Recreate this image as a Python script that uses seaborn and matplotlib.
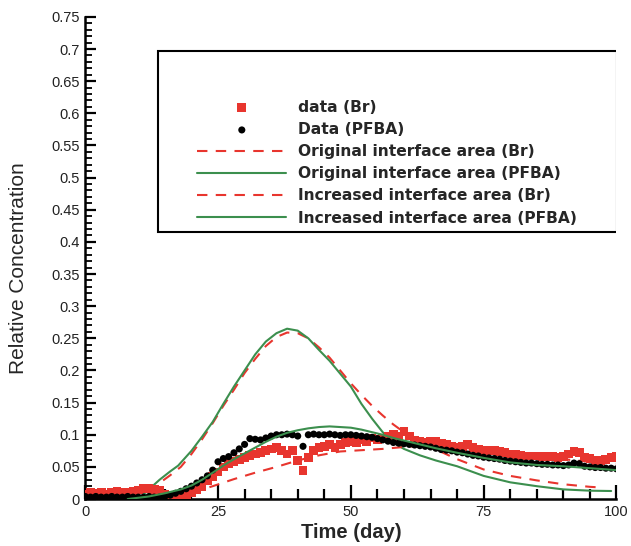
import numpy as np
import pandas as pd
import matplotlib
matplotlib.use("Agg")
import matplotlib.pyplot as plt
from matplotlib.patches import Rectangle
from matplotlib.ticker import MultipleLocator, FixedLocator, FuncFormatter
import seaborn as sns

# ---------------- data ----------------
data_t = list(range(0, 101))
data_br = [0.008, 0.010, 0.009, 0.010, 0.008, 0.010, 0.012, 0.010, 0.011, 0.012,
           0.014, 0.016, 0.017, 0.015, 0.013, 0.008, 0.004, 0.003, 0.004, 0.006,
           0.010, 0.014, 0.020, 0.028, 0.035, 0.042, 0.050, 0.055, 0.058, 0.062,
           0.065, 0.068, 0.070, 0.072, 0.075, 0.078, 0.080, 0.076, 0.070, 0.075,
           0.060, 0.045, 0.065, 0.075, 0.080, 0.082, 0.085, 0.080, 0.085, 0.088,
           0.090, 0.088, 0.092, 0.090, 0.095, 0.093, 0.095, 0.098, 0.100, 0.097,
           0.105, 0.098, 0.092, 0.090, 0.088, 0.090, 0.090, 0.086, 0.085, 0.082,
           0.080, 0.082, 0.085, 0.080, 0.078, 0.076, 0.075, 0.075, 0.074, 0.072,
           0.070, 0.069, 0.068, 0.067, 0.067, 0.067, 0.066, 0.066, 0.066, 0.065,
           0.066, 0.070, 0.074, 0.072, 0.065, 0.063, 0.060, 0.060, 0.062, 0.065,
           0.066]
data_pfba = [0.004, 0.003, 0.004, 0.003, 0.003, 0.004, 0.003, 0.003, 0.004, 0.003,
             0.003, 0.003, 0.004, 0.003, 0.003, 0.004, 0.006, 0.009, 0.012, 0.016,
             0.020, 0.025, 0.030, 0.036, 0.045, 0.058, 0.063, 0.066, 0.072, 0.078,
             0.085, 0.094, 0.093, 0.092, 0.095, 0.098, 0.100, 0.100, 0.101, 0.100,
             0.098, 0.082, 0.100, 0.101, 0.100, 0.100, 0.101, 0.100, 0.099, 0.100,
             0.100, 0.099, 0.098, 0.097, 0.096, 0.094, 0.092, 0.090, 0.088, 0.087,
             0.086, 0.085, 0.084, 0.083, 0.082, 0.081, 0.079, 0.077, 0.076, 0.075,
             0.073, 0.072, 0.070, 0.068, 0.067, 0.065, 0.064, 0.063, 0.062, 0.060,
             0.059, 0.058, 0.057, 0.056, 0.056, 0.055, 0.054, 0.054, 0.053, 0.053,
             0.052, 0.053, 0.056, 0.055, 0.051, 0.050, 0.049, 0.049, 0.048, 0.048,
             0.047]

orig_br_t = [12, 14, 16, 18, 20, 22, 24, 26, 28, 30, 32, 34, 36, 38, 40, 42, 44, 46,
             48, 50, 52, 54, 56, 58, 60, 62, 65, 70, 75, 80, 85, 90, 95, 97]
orig_br_v = [0.010, 0.025, 0.037, 0.050, 0.070, 0.093, 0.118, 0.145, 0.170, 0.196,
             0.218, 0.238, 0.252, 0.259, 0.258, 0.250, 0.236, 0.220, 0.200, 0.180,
             0.162, 0.145, 0.130, 0.116, 0.104, 0.094, 0.081, 0.062, 0.046, 0.036,
             0.029, 0.023, 0.019, 0.018]

orig_pfba_t = [10, 12, 14, 16, 17.5, 20, 22, 24, 26, 28, 30, 32, 34, 36, 38, 40, 42,
               44, 46, 48, 50, 52, 54, 56, 58, 60, 63, 66, 70, 75, 80, 85, 90, 95, 99]
orig_pfba_v = [0.000, 0.015, 0.030, 0.043, 0.052, 0.075, 0.097, 0.120, 0.148, 0.175,
               0.200, 0.225, 0.245, 0.258, 0.265, 0.262, 0.250, 0.232, 0.215, 0.195,
               0.175, 0.148, 0.125, 0.104, 0.088, 0.078, 0.068, 0.060, 0.051, 0.036,
               0.026, 0.020, 0.015, 0.013, 0.0125]

inc_br_t = [20, 24, 28, 30, 32, 36, 40, 44, 48, 52, 56, 60, 64, 68, 72, 76, 80, 85,
            90, 95, 100]
inc_br_v = [0.010, 0.020, 0.031, 0.036, 0.041, 0.050, 0.060, 0.068, 0.074, 0.076,
            0.078, 0.081, 0.083, 0.082, 0.079, 0.075, 0.071, 0.066, 0.062, 0.058,
            0.055]

inc_pfba_t = [8, 12, 15, 18, 20, 22, 24, 26, 28, 30, 32, 34, 36, 38, 40, 42, 44, 46,
              48, 50, 52, 54, 56, 58, 60, 63, 66, 70, 75, 80, 85, 90, 95, 100]
inc_pfba_v = [0.000, 0.004, 0.009, 0.015, 0.021, 0.030, 0.041, 0.052, 0.062, 0.071,
              0.080, 0.089, 0.097, 0.103, 0.107, 0.110, 0.112, 0.113, 0.112, 0.111,
              0.108, 0.104, 0.100, 0.095, 0.091, 0.085, 0.079, 0.072, 0.064, 0.057,
              0.053, 0.051, 0.048, 0.045]

labels = ["data (Br)", "Data (PFBA)", "Original interface area (Br)",
          "Original interface area (PFBA)", "Increased interface area (Br)",
          "Increased interface area (PFBA)"]
y_ticks = [0, 0.05, 0.1, 0.15, 0.2, 0.25, 0.3, 0.35, 0.4, 0.45, 0.5, 0.55, 0.6,
           0.65, 0.7, 0.75]
x_ticks = [0, 25, 50, 75, 100]

RED = "#e8352e"
GREEN = "#3c8f4e"

# ---------------- plot ----------------
sns.set_style("white")
plt.rcParams["font.family"] = ["Liberation Sans", "DejaVu Sans"]

fig = plt.figure(figsize=(6.31, 5.46), dpi=100)
ax = fig.add_axes([0.135, 0.086, 0.842, 0.883])

dash = (0, (5, 4))
sns.lineplot(x=orig_br_t, y=orig_br_v, ax=ax, color=RED, lw=1.5,
             linestyle=dash, label=labels[2])
sns.lineplot(x=orig_pfba_t, y=orig_pfba_v, ax=ax, color=GREEN, lw=1.5, label=labels[3])
sns.lineplot(x=inc_br_t, y=inc_br_v, ax=ax, color=RED, lw=1.5,
             linestyle=dash, label=labels[4])

sns.scatterplot(x=data_t, y=data_br, ax=ax, color=RED, marker="s", s=40,
                edgecolor="none", label=labels[0], zorder=3)
sns.scatterplot(x=data_t, y=data_pfba, ax=ax, color="black", marker="o", s=26,
                edgecolor="none", label=labels[1], zorder=4)
sns.lineplot(x=inc_pfba_t, y=inc_pfba_v, ax=ax, color=GREEN, lw=1.5,
             label=labels[5], zorder=5)

ax.set_xlim(0, 100)
ax.set_ylim(0, 0.75)
ax.spines["top"].set_visible(False)
ax.spines["right"].set_visible(False)
for s in ("left", "bottom"):
    ax.spines[s].set_linewidth(1.8)
    ax.spines[s].set_color("black")

ax.xaxis.set_major_locator(FixedLocator(x_ticks))
ax.xaxis.set_minor_locator(MultipleLocator(5))
ax.yaxis.set_major_locator(FixedLocator(y_ticks))
ax.yaxis.set_minor_locator(MultipleLocator(0.01))
ax.yaxis.set_major_formatter(FuncFormatter(lambda v, p: ("%g" % round(v, 2))))
ax.tick_params(axis="both", which="both", direction="in", color="black",
               bottom=True, left=True, top=False, right=False,
               labelsize=10.5, labelcolor="#222222")
ax.tick_params(axis="x", which="major", length=10, width=1.6, pad=4)
ax.tick_params(axis="x", which="minor", length=7, width=1.6)
ax.tick_params(axis="y", which="major", length=8, width=1.6, pad=4)
ax.tick_params(axis="y", which="minor", length=5, width=1.3)

ax.set_xlabel("Time (day)", fontsize=14.5, fontweight="bold", labelpad=3)
ax.set_ylabel("Relative Concentration", fontsize=15)
ax.yaxis.set_label_coords(-0.108, 0.479)

# legend
handles, labs = ax.get_legend_handles_labels()
order = [labs.index(l) for l in labels]
leg = ax.legend([handles[i] for i in order], [labs[i] for i in order],
                loc="upper left", bbox_to_anchor=(0.185, 0.857), frameon=False,
                prop={"weight": "bold", "size": 11.2, "family": "DejaVu Sans"},
                handlelength=5.7, handletextpad=0.75, labelspacing=0.46,
                markerscale=1.0)

ax.add_patch(Rectangle((158 / 631, 1 - 232 / 546), (617 - 158) / 631,
                       (232 - 51) / 546, transform=fig.transFigure,
                       fill=False, edgecolor="black", lw=1.5, zorder=10))

fig.savefig("out.png", dpi=100, facecolor="white")
